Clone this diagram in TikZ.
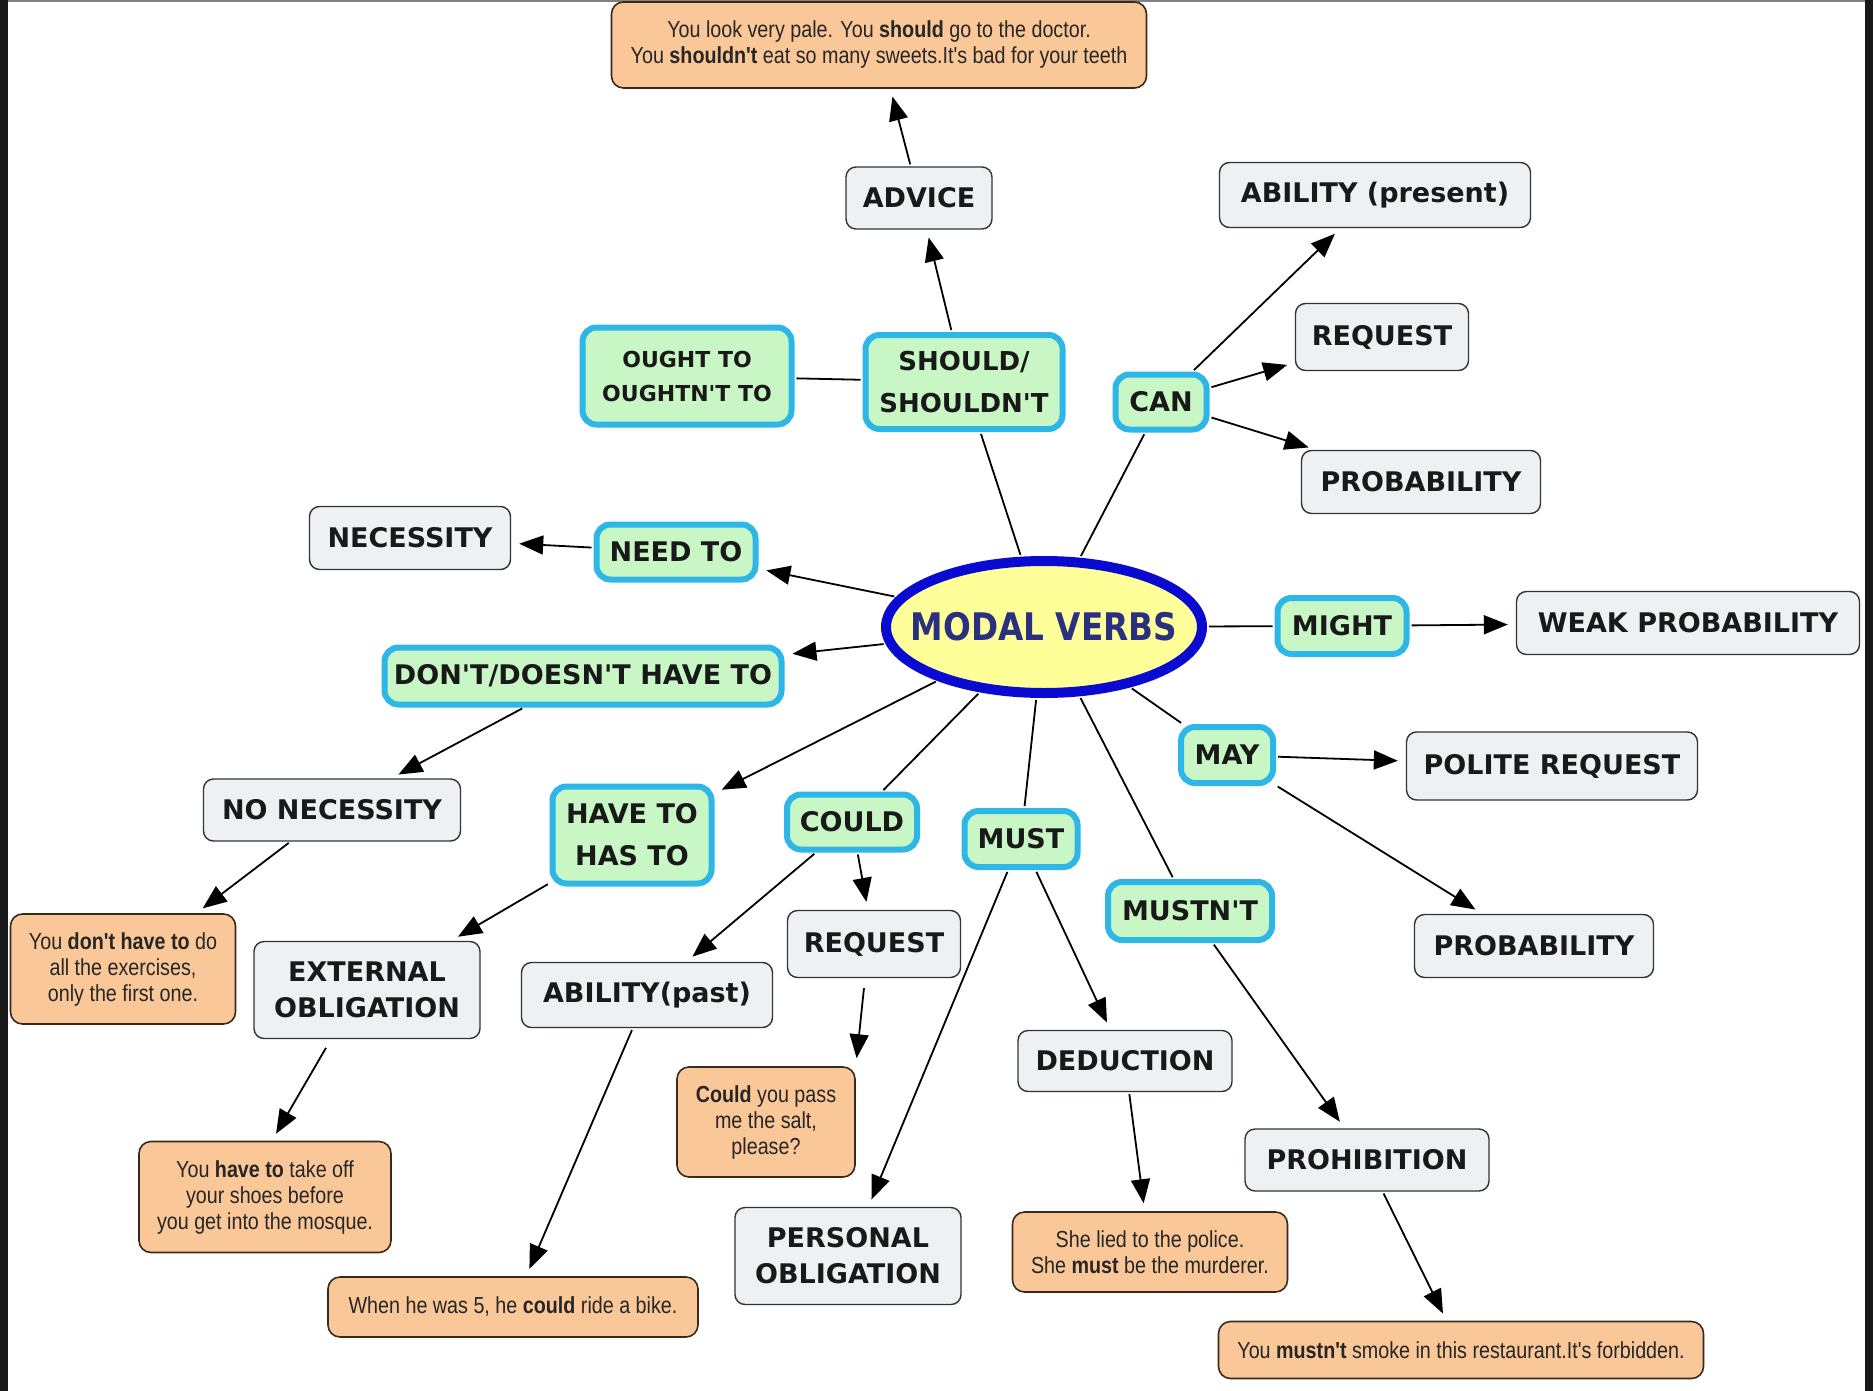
\documentclass[tikz,border=0pt]{standalone}
\usepackage{fontspec}
\setmainfont{DejaVu Sans}
\newfontfamily\labfont{DejaVu Sans}
\newfontfamily\exfont[FakeStretch=0.85]{Liberation Sans}
\newfontfamily\modalfont[FakeStretch=0.86]{DejaVu Sans}
\usetikzlibrary{arrows.meta,calc,shapes.geometric}
\definecolor{gfill}{HTML}{EDF1F3}
\definecolor{gline}{HTML}{333333}
\definecolor{grfill}{HTML}{C8F7C5}
\definecolor{cyanb}{HTML}{2DB6E6}
\definecolor{pfill}{HTML}{FAC898}
\definecolor{pline}{HTML}{3B2A1C}
\definecolor{yfill}{HTML}{FFFF99}
\definecolor{eline}{HTML}{0A0AD0}
\definecolor{navy}{HTML}{2B2F80}
\tikzset{
  lab/.style={font=\labfont\fontsize{13.5}{17}\selectfont\bfseries, text=black!90, align=center, inner sep=1pt},
  gbox/.style={lab, draw=gline, line width=0.7pt, fill=gfill, rounded corners=5pt},
  grbox/.style={lab, draw=cyanb, line width=3pt, fill=grfill, rounded corners=7pt},
  exbox/.style={font=\exfont\fontsize{11.6}{13}\selectfont, text=black!85, align=center, draw=pline, line width=0.8pt, fill=pfill, rounded corners=6pt, inner sep=1pt},
  sz/.style 2 args={minimum width=#1*0.5pt, minimum height=#2*0.5pt},
  gsz/.style 2 args={minimum width=(#1-6)*0.5pt, minimum height=(#2-6)*0.5pt},
  arr/.style={-{Triangle[length=12pt,width=9.5pt]}, line width=0.9pt, shorten >=4pt, shorten <=1pt},
  ln/.style={line width=0.9pt, shorten >=1pt, shorten <=1pt}
}
\begin{document}
\begin{tikzpicture}[x=0.5pt,y=-0.5pt]
\useasboundingbox (0,0) rectangle (1873,1391);
\fill[white] (0,0) rectangle (1873,1391);
\fill[black!90] (0,0) rectangle (8,1391);
\fill[black!90] (1865,0) rectangle (1873,1391);
\fill[gray] (8,0) rectangle (1865,2);

% central ellipse
\node[ellipse, draw=eline, line width=5pt, fill=yfill, minimum width=158pt, minimum height=66pt, inner sep=0pt] (modal) at (1044,627)
  {\makebox[0pt]{\modalfont\bfseries\fontsize{19}{19}\selectfont\color{navy}MODAL VERBS}};

% green modal nodes
\node[grbox, gsz={215}{103}, font=\labfont\fontsize{11}{17}\selectfont\bfseries] (ought) at (687,376) {OUGHT TO\\OUGHTN'T TO};
\node[grbox, gsz={203}{100}, font=\labfont\fontsize{13}{21}\selectfont\bfseries] (should) at (964,382) {SHOULD/\\SHOULDN'T};
\node[grbox, gsz={97}{61}] (can) at (1161,402) {CAN};
\node[grbox, gsz={165}{61}] (need) at (676,552) {NEED TO};
\node[grbox, gsz={135}{62}] (might) at (1342,626) {MIGHT};
\node[grbox, gsz={403}{63}] (dont) at (583,676) {DON'T/DOESN'T HAVE TO};
\node[grbox, gsz={98}{62}] (may) at (1227,755) {MAY};
\node[grbox, gsz={165}{103}, font=\labfont\fontsize{13.5}{21}\selectfont\bfseries] (haveto) at (632,835) {HAVE TO\\HAS TO};
\node[grbox, gsz={136}{61}] (could) at (852,822) {COULD};
\node[grbox, gsz={119}{62}] (must) at (1021,839) {MUST};
\node[grbox, gsz={170}{64}] (mustnt) at (1190,911) {MUSTN'T};

% grey meaning nodes
\node[gbox, sz={146}{62}] (advice) at (919,198) {ADVICE};
\node[gbox, sz={311}{65}] (abilpres) at (1375,195) {ABILITY (present)};
\node[gbox, sz={173}{67}] (reqT) at (1382,337) {REQUEST};
\node[gbox, sz={239}{63}] (probT) at (1421,482) {PROBABILITY};
\node[gbox, sz={201}{63}] (necess) at (410,538) {NECESSITY};
\node[gbox, sz={343}{63}] (weak) at (1688,623) {WEAK PROBABILITY};
\node[gbox, sz={291}{68}] (polite) at (1552,766) {POLITE REQUEST};
\node[gbox, sz={257}{62}] (nonec) at (332,810) {NO NECESSITY};
\node[gbox, sz={239}{63}] (probB) at (1534,946) {PROBABILITY};
\node[gbox, sz={226}{97}, font=\labfont\fontsize{13.5}{18}\selectfont\bfseries] (external) at (367,990) {EXTERNAL\\OBLIGATION};
\node[gbox, sz={251}{65}] (abilpast) at (647,995) {ABILITY(past)};
\node[gbox, sz={173}{67}] (reqC) at (874,944) {REQUEST};
\node[gbox, sz={214}{61}] (deduct) at (1125,1061) {DEDUCTION};
\node[gbox, sz={226}{97}, font=\labfont\fontsize{13.5}{18}\selectfont\bfseries] (personal) at (848,1256) {PERSONAL\\OBLIGATION};
\node[gbox, sz={244}{62}] (prohib) at (1367,1160) {PROHIBITION};

% example nodes
\node[exbox, sz={535}{86}] (exAdv) at (879,45) {You look very pale. You \textbf{should} go to the doctor.\\You \textbf{shouldn't} eat so many sweets.It's bad for your teeth};
\node[exbox, sz={225}{110}] (exDont) at (123,969) {You \textbf{don't have to} do\\all the exercises,\\only the first one.};
\node[exbox, sz={252}{111}] (exHave) at (265,1197) {You \textbf{have to} take off\\your shoes before\\you get into the mosque.};
\node[exbox, sz={178}{110}] (exCould) at (766,1122) {\textbf{Could} you pass\\me the salt,\\please?};
\node[exbox, sz={370}{60}] (exWhen) at (513,1307) {When he was 5, he \textbf{could} ride a bike.};
\node[exbox, sz={275}{80}] (exShe) at (1150,1252) {She lied to the police.\\She \textbf{must} be the murderer.};
\node[exbox, sz={485}{57}] (exMustnt) at (1461,1350) {You \textbf{mustn't} smoke in this restaurant.It's forbidden.};

% connectors
\draw[arr] (should) -- (advice);
\draw[arr] (advice) -- (exAdv);
\draw[ln] (ought) -- (should);
\draw[ln] (should) -- (modal);
\draw[ln] (can) -- (modal);
\draw[arr] (can) -- (abilpres);
\draw[arr] (can) -- (reqT);
\draw[arr] (can) -- (probT);
\draw[arr] (modal) -- (need);
\draw[arr] (need) -- (necess);
\draw[arr] (modal) -- (dont);
\draw[ln] (modal) -- (might);
\draw[arr] (might) -- (weak);
\draw[ln] (modal) -- (may);
\draw[arr] (may) -- (polite);
\draw[arr] (may) -- (probB);
\draw[arr] (dont) -- (nonec);
\draw[arr] (nonec) -- (exDont);
\draw[arr] (modal) -- (haveto);
\draw[arr] (haveto) -- (external);
\draw[arr, shorten <=5pt] ($(external.south)+(-36,0)$) -- ($(exHave.north)+(7,0)$);
\draw[ln] (modal) -- (could);
\draw[arr] (could) -- (abilpast);
\draw[arr] (could) -- (reqC);
\draw[arr, shorten <=5pt] ($(reqC.south)+(-9,0)$) -- (exCould.north east);
\draw[arr] (abilpast) -- (exWhen);
\draw[ln] (modal) -- (must);
\draw[arr] (must) -- (personal);
\draw[arr] (must) -- (deduct);
\draw[ln] (modal) -- (mustnt);
\draw[arr] (mustnt) -- (prohib);
\draw[arr] (deduct) -- (exShe);
\draw[arr] (prohib) -- (exMustnt);
\end{tikzpicture}
\end{document}
